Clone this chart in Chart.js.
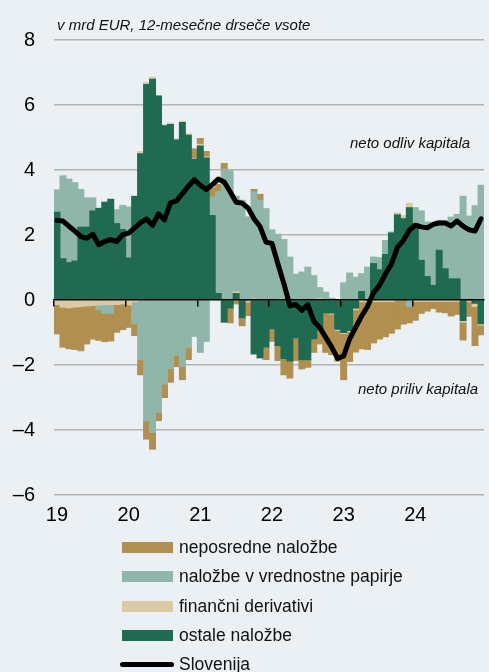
<!DOCTYPE html>
<html>
<head>
<meta charset="utf-8">
<script src="https://cdn.jsdelivr.net/npm/chart.js@4"></script>
<style>
  html, body { margin: 0; padding: 0; background: #eaf0f4; }
  #wrap { position: relative; width: 489px; height: 672px; background: #eaf0f4;
          font-family: "Liberation Sans", Arial, sans-serif; color: #111; }
  #wrap canvas { position: absolute; left: 0; top: 0; }
  .note { position: absolute; font-style: italic; font-size: 15px; line-height: 17px; white-space: nowrap; }
  #legend { position: absolute; left: 120px; top: 533px; }
  .item { display: flex; align-items: center; height: 29.3px; font-size: 17.5px; white-space: nowrap; }
  .sw { width: 51px; height: 11px; margin-left: 2px; margin-right: 6px; }
  .ln { width: 54px; height: 5px; border-radius: 3px; background: #000; margin-right: 5px; }
</style>
</head>
<body>
<div id="wrap">
  <canvas id="graf" width="489" height="672"></canvas>
  <div class="note" style="left:57px; top:16px;">v mrd EUR, 12-mesečne drseče vsote</div>
  <div class="note" style="left:350px; top:134px;">neto odliv kapitala</div>
  <div class="note" style="left:358px; top:380px;">neto priliv kapitala</div>
  <div id="legend"></div>
</div>
<script>
// kategorije (mesečno, 2019-2024)
const years = ['19', '20', '21', '22', '23', '24'];
const months = ['01', '02', '03', '04', '05', '06', '07', '08', '09', '10', '11', '12'];
const labels = years.flatMap(y => months.map(m => m + '/' + y));

// serije, mrd EUR
const neposredne = [
  -0.90, -1.23, -1.26, -1.30, -1.36, -1.17, -1.03, -0.94, -0.87, -0.85, -0.85, -0.79,
  -0.69, -0.36, -0.46, -0.56, -0.51, -0.25, -0.41, -0.42, -0.35, -0.40, -0.37, 0.30,
  0.18, 0.17, 0.28, 0.23, 0.18, -0.45, -0.12, -0.24, -0.42, 0.07, 0.18, -0.38,
  -0.38, -0.46, -0.50, -0.52, -0.69, -0.28, -0.23, -0.41, -0.43, -1.21, -1.25, -0.95,
  -1.42, -0.92, -1.30, -1.45, -1.47, -1.27, -1.15, -1.08, -0.97, -0.89, -0.74, -0.50,
  -0.58, -0.37, -0.30, -0.22, -0.33, -0.35, -0.45, -0.40, -0.55, -0.45, -1.20, -0.30
];
const vrednostne = [
  0.69, 2.55, 2.57, 2.41, 1.16, 0.90, 0.40, -0.15, -0.27, -0.27, 0.43, 0.74,
  1.57, -0.68, -1.84, -3.72, -4.08, -3.46, -2.59, -2.11, -1.70, -2.05, -1.46, -1.12,
  -1.61, -1.27, 0.57, 3.13, 4.02, 3.98, 2.94, 3.07, 2.56, 3.30, 3.07, 2.81,
  2.16, 2.02, 1.86, 1.32, 0.79, 0.86, 1.01, 0.75, 0.33, 0.24, 0.05, 0.00,
  0.53, 0.83, 0.70, 0.55, 1.01, 0.20, 0.37, 0.43, 0.03, 0.00, 0.00, -0.20,
  0.49, 1.52, 1.68, 1.93, 0.92, 1.48, 1.90, 1.98, 3.19, 2.58, 2.90, 3.53
];
const derivativi = [
  -0.14, -0.22, -0.24, -0.22, -0.20, -0.18, -0.17, -0.15, -0.14, -0.14, -0.14, -0.12,
  -0.15, -0.05, 0.07, 0.06, 0.06, 0.00, 0.03, 0.04, 0.04, 0.04, 0.04, 0.02,
  0.05, 0.03, 0.00, 0.00, 0.00, 0.00, 0.05, 0.00, -0.06, 0.03, 0.00, 0.00,
  0.00, 0.00, 0.00, 0.00, 0.00, 0.00, 0.00, 0.00, 0.05, 0.00, -0.03, -0.03,
  -0.03, -0.03, -0.05, -0.05, -0.05, -0.05, -0.05, -0.05, -0.05, 0.05, 0.10, 0.14,
  -0.04, -0.04, -0.04, -0.04, -0.04, -0.04, -0.04, -0.04, -0.05, -0.05, -0.10, -0.04
];
const ostale = [
  2.70, 1.27, 1.15, 1.20, 2.24, 2.24, 2.74, 2.82, 3.01, 3.10, 2.35, 2.17,
  1.29, 3.19, 4.50, 6.63, 6.79, 6.28, 5.36, 5.40, 4.92, 5.46, 5.07, 4.33,
  4.74, 4.37, 2.60, 0.20, -0.68, -0.25, 0.20, -0.55, 0.00, -1.66, -1.78, -1.45,
  -0.89, -1.40, -1.80, -1.88, -1.17, -1.84, -1.84, -1.20, -0.92, -0.40, -0.40, -0.90,
  -1.00, -0.94, -0.25, 0.26, 0.00, 1.12, 0.93, 1.40, 2.06, 2.62, 2.50, 2.84,
  2.35, 1.22, 0.72, 0.45, 1.53, 0.96, 0.65, 0.65, -0.63, 0.00, -0.10, -0.73
];
const slovenija = [
  2.45, 2.43, 2.27, 2.12, 1.95, 1.90, 2.02, 1.70, 1.80, 1.86, 1.80, 2.01,
  2.06, 2.22, 2.38, 2.49, 2.30, 2.65, 2.47, 2.99, 3.05, 3.27, 3.50, 3.70,
  3.53, 3.40, 3.55, 3.72, 3.63, 3.33, 3.01, 2.98, 2.83, 2.50, 2.26, 1.78,
  1.74, 1.11, 0.50, -0.18, -0.14, -0.32, -0.14, -0.65, -0.85, -1.15, -1.45, -1.80,
  -1.72, -1.20, -0.85, -0.50, -0.20, 0.22, 0.45, 0.80, 1.10, 1.62, 1.83, 2.15,
  2.30, 2.25, 2.22, 2.33, 2.37, 2.37, 2.28, 2.43, 2.27, 2.16, 2.12, 2.50
];

const barve = {
  neposredne: '#b08f50',
  vrednostne: '#8fb6a8',
  derivativi: '#dccaa4',
  ostale: '#1f6a50',
  linija: '#000000',
  mreza: '#b3b3b3',
};

// order doloci vrstni red zlaganja: ostale najblizje nicli
function stolpci(label, data, color, order) {
  return {
    type: 'bar', label: label, data: data, backgroundColor: color,
    borderWidth: 0, inflateAmount: 0.5, barPercentage: 1, categoryPercentage: 1, order: order,
  };
}

const datasets = [
  stolpci('neposredne naložbe', neposredne, barve.neposredne, 4),
  stolpci('naložbe v vrednostne papirje', vrednostne, barve.vrednostne, 3),
  stolpci('finančni derivativi', derivativi, barve.derivativi, 2),
  stolpci('ostale naložbe', ostale, barve.ostale, 1),
  {
    type: 'line', label: 'Slovenija', data: slovenija, stack: 'linija',
    borderColor: barve.linija, borderWidth: 5, pointRadius: 0, tension: 0,
    borderJoinStyle: 'round', borderCapStyle: 'round', order: 0,
  },
];

const ctx = document.getElementById('graf').getContext('2d');
const graf = new Chart(ctx, {
  data: { labels: labels, datasets: datasets },
  options: {
    responsive: false,
    animation: false,
    layout: { padding: { top: 40, right: 0, left: 0, bottom: 137 } },
    plugins: { legend: { display: false }, tooltip: { enabled: false }, title: { display: false } },
    scales: {
      x: {
        stacked: true, offset: true,
        grid: { display: false, drawTicks: false },
        border: { display: false },
        ticks: {
          autoSkip: false, maxRotation: 0, padding: 8, color: '#000',
          font: { size: 20, family: '"Liberation Sans", Arial, sans-serif' },
          callback: (v, i) => (i % 12 === 0 ? years[i / 12] : ''),
        },
      },
      x2: {
        type: 'category', labels: labels, position: { y: 0 }, offset: true,
        grid: {
          offset: true, drawOnChartArea: false, drawTicks: true, tickLength: 6, lineWidth: 1.5, z: 1,
          color: c => (c.index % 12 === 0 ? '#000' : 'rgba(0,0,0,0)'),
        },
        border: { display: true, color: '#000', width: 1.5, z: 1 },
        ticks: { display: false },
      },
      y: {
        stacked: true, min: -6, max: 8,
        ticks: {
          stepSize: 2, padding: 19, color: '#000',
          font: { size: 20, family: '"Liberation Sans", Arial, sans-serif' },
          callback: v => (v < 0 ? '\u2013' + Math.abs(v) : '' + v),
        },
        grid: { drawTicks: false, lineWidth: 1.5, color: c => (c.tick.value === 0 ? 'rgba(0,0,0,0)' : barve.mreza) },
        border: { display: false },
        afterFit: s => { s.width = 54; },
      },
    },
  },
});

// legenda
const legend = document.getElementById('legend');
datasets.forEach(ds => {
  const row = document.createElement('div');
  row.className = 'item';
  const sw = document.createElement('span');
  if (ds.type === 'line') {
    sw.className = 'ln';
  } else {
    sw.className = 'sw';
    sw.style.background = ds.backgroundColor;
  }
  row.appendChild(sw);
  row.appendChild(document.createTextNode(ds.label));
  legend.appendChild(row);
});
</script>
</body>
</html>
